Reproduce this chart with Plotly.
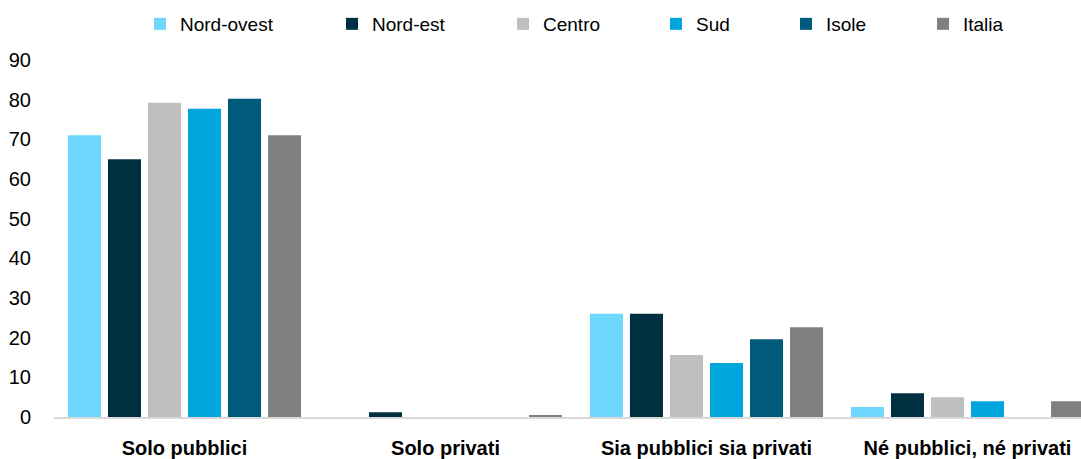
import plotly.graph_objects as go

categories = ["Solo pubblici", "Solo privati", "Sia pubblici sia privati", "Né pubblici, né privati"]
regions = ["Nord-ovest", "Nord-est", "Centro", "Sud", "Isole", "Italia"]
nord_ovest = [71, 0, 26, 2.5]
nord_est = [65, 1.2, 26, 6]
centro = [79.2, 0, 15.6, 5]
sud = [77.7, 0, 13.6, 4]
isole = [80.2, 0, 19.6, 0]
italia = [71, 0.4, 22.6, 4]
series = [nord_ovest, nord_est, centro, sud, isole, italia]
colors = ["#6DD7FE", "#003040", "#BFBFBF", "#00A6DD", "#005A7C", "#808080"]
y_ticks = [0, 10, 20, 30, 40, 50, 60, 70, 80, 90]

W, H = 1081, 459
ML, MR, MT, MB = 54, 0, 60, 42
PW = W - ML - MR
PH = H - MT - MB

# legend text start positions (px) in reference
text_starts = [180, 372, 543, 696, 826, 963]
LEG_OFF = 40

FONT = "Liberation Sans, Arial, sans-serif"

fig = go.Figure()
for i, (name, vals, col) in enumerate(zip(regions, series, colors)):
    lname = "legend" if i == 0 else f"legend{i+1}"
    fig.add_trace(go.Bar(
        x=categories, y=vals, name=name, marker_color=col,
        marker_line_width=0, legend=lname,
    ))

layout_legends = {}
for i, ts in enumerate(text_starts):
    lname = "legend" if i == 0 else f"legend{i+1}"
    layout_legends[lname] = dict(
        x=(ts - LEG_OFF - ML) / PW, xanchor="left",
        y=1 + (MT - 24) / PH, yanchor="middle",
        orientation="h", font=dict(family=FONT, size=19, color="#000000"),
        bgcolor="rgba(0,0,0,0)", borderwidth=0,
    )

fig.update_layout(
    width=W, height=H,
    margin=dict(l=ML, r=MR, t=MT, b=MB, pad=0),
    paper_bgcolor="white", plot_bgcolor="white",
    barmode="group", bargap=0.08, bargroupgap=0.175,
    font=dict(family=FONT, size=19, color="#000000"),
    showlegend=True,
    **layout_legends,
)
fig.update_xaxes(
    range=[-0.5, -0.5 + PW / 261.0], automargin=False,
    showline=True, linecolor="#D9D9D9", linewidth=2,
    showgrid=False, zeroline=False, ticks="",
    tickfont=dict(family=FONT, size=20, color="#000000", weight="bold"),
    ticklabelstandoff=12,
)
fig.update_yaxes(
    range=[0, 90], tickvals=y_ticks, ticktext=[str(v) for v in y_ticks],
    automargin=False,
    showline=False, showgrid=False, zeroline=False, ticks="",
    tickfont=dict(family=FONT, size=20, color="#000000"),
    ticklabelstandoff=22,
)

fig.write_html(
    "out.html",
    config={"displayModeBar": False},
    post_script="document.body.style.margin='0';document.body.style.overflow='hidden';",
)
